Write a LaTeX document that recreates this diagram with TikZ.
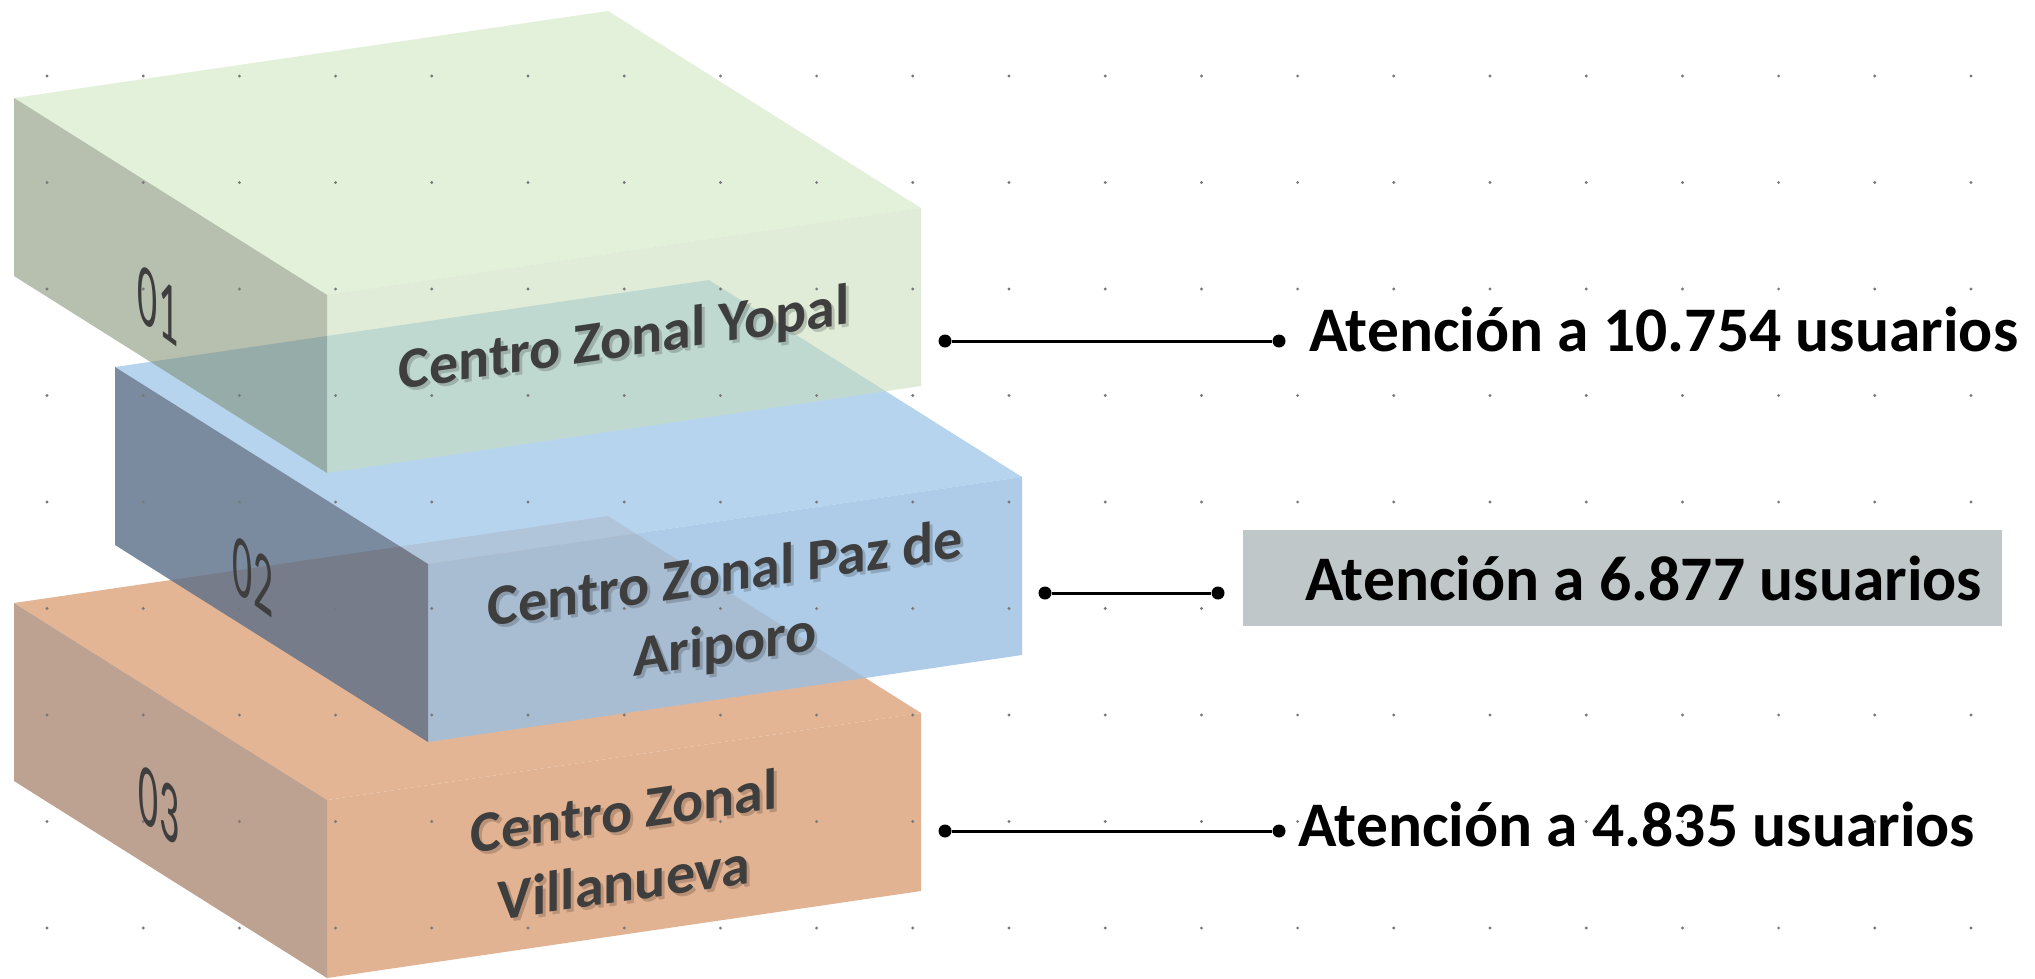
\documentclass[tikz,border=0pt]{standalone}
\usepackage{fontspec}
\setmainfont{Carlito}[Numbers=Lining]
\definecolor{gTop}{RGB}{204,228,188}
\definecolor{gRight}{RGB}{200,222,184}
\definecolor{gLeft}{RGB}{124,140,111}
\definecolor{bTop}{RGB}{165,202,236}
\definecolor{bRight}{RGB}{154,192,226}
\definecolor{bLeft}{RGB}{91,110,136}
\definecolor{oTop}{RGB}{228,181,148}
\definecolor{oRight}{RGB}{226,179,146}
\definecolor{oLeft}{RGB}{189,161,145}
\definecolor{txtgray}{RGB}{62,62,62}
\definecolor{lblbox}{RGB}{191,199,200}
\definecolor{dotc}{RGB}{120,120,120}
\newcommand\cubebox[5]{%
  \fill[#2, fill opacity=#5] #1 -- ++(594,-87) -- ++(-313,-197) -- ++(-594,87) -- cycle;
  \fill[#3, fill opacity=#5] #1 -- ++(594,-87) -- ++(0,178) -- ++(-594,87) -- cycle;
  \fill[#4, fill opacity=#5] #1 -- ++(-313,-197) -- ++(0,178) -- ++(313,197) -- cycle;
}
\tikzset{
  facelbl/.style={font=\fontsize{58}{71}\selectfont\bfseries, text=txtgray, align=center, inner sep=0pt, cm={1,0.146,0,1,(0,0)}},
  faceshadow/.style={facelbl, text=black, text opacity=0.18},
  numlbl/.style={font=\fontsize{88}{92}\selectfont, text=txtgray, inner sep=0pt, cm={0.45,-0.33,0,1,(0,0)}},
  rlabel/.style={font=\fontsize{63.5}{75}\selectfont\bfseries, text=black, inner sep=0pt, anchor=base west},
  cdot/.style={circle, fill=black, minimum size=13pt, inner sep=0pt},
  conn/.style={line width=3pt, black},
}
\begin{document}
\begin{tikzpicture}[x=1pt, y=-1pt]
\useasboundingbox (0,0) rectangle (2035,978);
\fill[white] (0,0) rectangle (2035,978);
% boxes, bottom first
\cubebox{(327,800)}{oTop}{oRight}{oLeft}{1}
\cubebox{(428,564)}{bTop}{bRight}{bLeft}{0.8}
\cubebox{(327,295)}{gTop}{gRight}{gLeft}{0.55}
% dot grid
\foreach \i in {0,...,20} {
  \foreach \j in {0,...,8} {
    \fill[dotc] ({47+96.2*\i},{76+106.5*\j}) circle[radius=1.6pt];
  }
}
% face labels
\node[faceshadow] at (627,344) {Centro Zonal Yopal};
\node[facelbl] (t1) at (624,341) {Centro Zonal Yopal};
\node[faceshadow] at (728,615) {Centro Zonal Paz de\\Ariporo};
\node[facelbl] (t2) at (725,612) {Centro Zonal Paz de\\Ariporo};
\node[faceshadow] at (627,849) {Centro Zonal\\Villanueva};
\node[facelbl] (t3) at (624,846) {Centro Zonal\\Villanueva};
% numbers
\node[numlbl] (n1) at (158,305) {01};
\node[numlbl] (n2) at (253,576) {02};
\node[numlbl] (n3) at (159,805) {03};
% connectors
\node[cdot] (a1) at (945,341) {};
\node[cdot] (b1) at (1279,341) {};
\draw[conn] (a1) -- (b1);
\node[cdot] (a2) at (1045,593) {};
\node[cdot] (b2) at (1218,593) {};
\draw[conn] (a2) -- (b2);
\node[cdot] (a3) at (945,831) {};
\node[cdot] (b3) at (1279,831) {};
\draw[conn] (a3) -- (b3);
% right labels
\node[rlabel] (l1) at (1309,351) {Atención a 10.754 usuarios};
\node[fill=lblbox, minimum width=759pt, minimum height=96pt, inner sep=0pt] (gbox) at (1622.5,578) {};
\node[rlabel] (l2) at (1305,600) {Atención a 6.877 usuarios};
\node[rlabel] (l3) at (1298,846) {Atención a 4.835 usuarios};
\end{tikzpicture}
\end{document}
